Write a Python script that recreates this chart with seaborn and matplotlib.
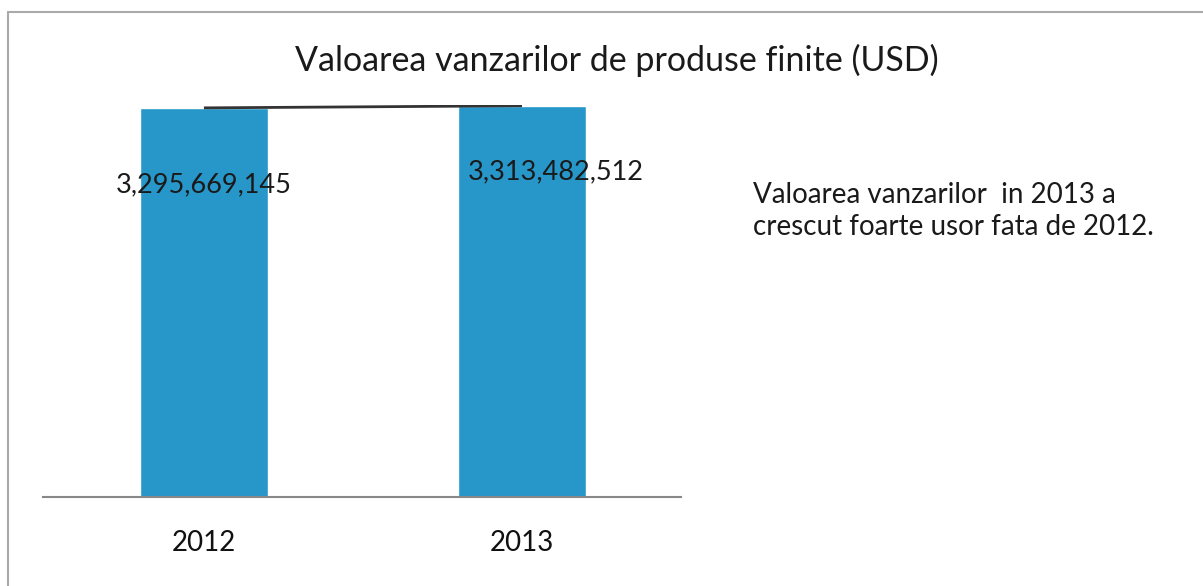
import matplotlib
matplotlib.use("Agg")
import matplotlib.pyplot as plt
import seaborn as sns
import pandas as pd
from matplotlib.lines import Line2D

years = ["2012", "2013"]
values = [3295669145, 3313482512]
value_labels = ["3,295,669,145", "3,313,482,512"]
title = "Valoarea vanzarilor de produse finite (USD)"
note = "Valoarea vanzarilor  in 2013 a\ncrescut foarte usor fata de 2012."

sns.set_theme(style="white")
plt.rcParams["font.family"] = ["Lato", "DejaVu Sans"]

df = pd.DataFrame({"year": years, "value": values})

fig = plt.figure(figsize=(12.03, 5.86), dpi=100)
ax = fig.add_axes([43/1203, 1-497/586, (681-43)/1203, (497-105)/586])

sns.barplot(data=df, x="year", y="value", color="#2797c9", width=0.40,
            saturation=1, ax=ax, zorder=2)
ax.plot(range(len(values)), values, color="#333333", lw=2, zorder=3,
        solid_capstyle="butt")

ax.set_xlim(-0.506, 1.5)
ax.set_ylim(0, 3.32e9)
ax.set_xlabel("")
ax.set_ylabel("")
ax.set_yticks([])
for s in ["top", "right", "left"]:
    ax.spines[s].set_visible(False)
ax.spines["bottom"].set_color("#888888")
ax.spines["bottom"].set_linewidth(1.5)
ax.tick_params(axis="x", length=0, pad=24, labelsize=20, colors="#111111")

offsets = [(0, -77), (34, -66)]
for i, (v, lab) in enumerate(zip(values, value_labels)):
    ax.annotate(lab, xy=(i, v), xytext=offsets[i], textcoords="offset pixels",
                ha="center", va="center", fontsize=19.5, color="#1a1a1a", zorder=4)

fig.text(617/1203, 1-60/586, title, ha="center", va="center", fontsize=24.5,
         color="#1a1a1a")
fig.text(753/1203, 1-211/586, note, ha="left", va="center", fontsize=20,
         color="#1a1a1a", linespacing=1.3)

# chart border (left and top edges visible)
fig.add_artist(Line2D([8/1203, 8/1203], [0, 1-12/586], transform=fig.transFigure,
                      color="#aaaaaa", lw=1.5))
fig.add_artist(Line2D([8/1203, 1], [1-12/586, 1-12/586], transform=fig.transFigure,
                      color="#aaaaaa", lw=1.5))

fig.savefig("out.png", dpi=100)
